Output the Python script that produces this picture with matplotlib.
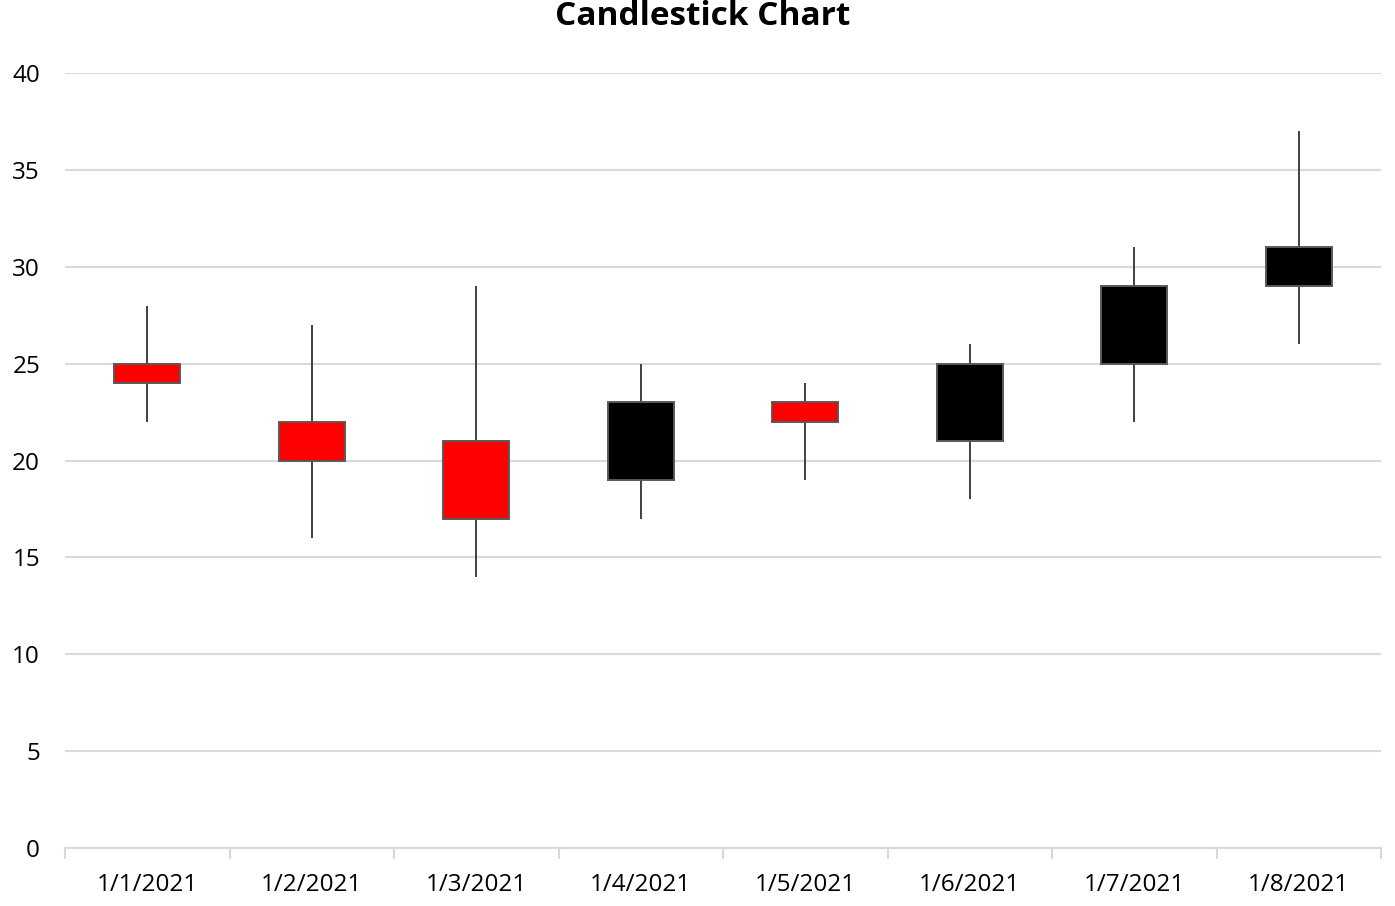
import matplotlib
matplotlib.use("Agg")
import matplotlib.pyplot as plt
from matplotlib.patches import Rectangle

dates = ["1/1/2021", "1/2/2021", "1/3/2021", "1/4/2021", "1/5/2021", "1/6/2021", "1/7/2021", "1/8/2021"]
opens = [25, 22, 21, 19, 23, 21, 25, 29]
closes = [24, 20, 17, 23, 22, 25, 29, 31]
highs = [28, 27, 29, 25, 24, 26, 31, 37]
lows = [22, 16, 14, 17, 19, 18, 22, 26]
yticks = [0, 5, 10, 15, 20, 25, 30, 35, 40]

plt.rcParams['font.family'] = ['Open Sans', 'DejaVu Sans']
W, H = 1395, 906
fig = plt.figure(figsize=(W / 100, H / 100), dpi=100)
ax = fig.add_axes([65 / W, 1 - 848 / H, (1381 - 65) / W, (848 - 73) / H])

n = len(dates)
bw = 0.4
for i in range(n):
    o, c, h, l = opens[i], closes[i], highs[i], lows[i]
    lo, hi = min(o, c), max(o, c)
    col = 'black' if c > o else '#ff0000'
    ax.plot([i, i], [hi, h], color='#404040', lw=1.4, zorder=3, solid_capstyle='butt')
    ax.plot([i, i], [l, lo], color='#404040', lw=1.4, zorder=3, solid_capstyle='butt')
    ax.add_patch(Rectangle((i - bw / 2, lo), bw, hi - lo, facecolor=col,
                           edgecolor='#595959', lw=1.4, zorder=4))

ax.set_xlim(-0.5, n - 0.5)
ax.set_ylim(0, 40)
ax.set_yticks(yticks)
ax.set_yticklabels([str(v) for v in yticks], fontsize=17.5)
ax.yaxis.grid(True, color='#d9d9d9', lw=1.5)
ax.set_axisbelow(True)
ax.tick_params(axis='y', length=0, pad=18)

ax.set_xticks(range(n))
ax.set_xticklabels(dates, fontsize=17.5)
ax.tick_params(axis='x', length=0, pad=18)
ax.set_xticks([i - 0.5 for i in range(n + 1)], minor=True)
ax.tick_params(axis='x', which='minor', length=8, width=1.5, color='#d9d9d9', direction='out')

for s in ['top', 'right', 'left']:
    ax.spines[s].set_visible(False)
ax.spines['bottom'].set_color('#d9d9d9')
ax.spines['bottom'].set_linewidth(1.5)

fig.text(703 / W, 1 - 25 / H, "Candlestick Chart", ha='center', va='baseline',
         fontsize=24, fontweight='bold')

fig.savefig("out.png", dpi=100)
